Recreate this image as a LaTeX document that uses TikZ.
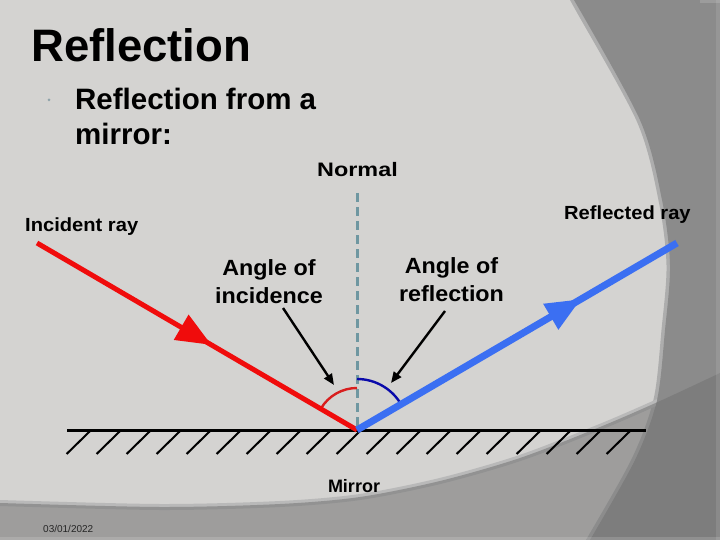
\documentclass[tikz,border=0pt]{standalone}
\usepackage{fontspec}
\setmainfont{Liberation Sans}
\newfontfamily\lblfont[FakeStretch=1.06]{Liberation Sans}
\newfontfamily\lblwide[FakeStretch=1.2]{Liberation Sans}
\usetikzlibrary{arrows.meta,decorations.markings,calc}
\definecolor{bglight}{HTML}{D4D3D1}
\definecolor{bgdark}{HTML}{8B8B8B}
\definecolor{bandright}{HTML}{ADADAD}
\definecolor{bandbottom}{HTML}{B9B9B9}
\definecolor{overlayc}{HTML}{727272}
\definecolor{rayred}{HTML}{F00C0C}
\definecolor{rayblue}{HTML}{3B6FF2}
\definecolor{arcred}{HTML}{D81E1E}
\definecolor{arcblue}{HTML}{0A0AAA}
\definecolor{normalc}{HTML}{6F97A1}
\definecolor{bulletc}{HTML}{8FA3AA}
\tikzset{
  redray/.style={draw=rayred, line width=5pt},
  blueray/.style={draw=rayblue, line width=7pt},
  raytip/.style={decoration={markings, mark=at position #1 with {\arrow{Triangle[length=35pt,width=28pt]}}}, postaction={decorate}},
  pointer/.style={draw=black, line width=2.4pt, -{Triangle[length=11pt,width=9pt]}},
  hatch/.style={draw=black, line width=2pt},
  normalline/.style={draw=normalc, line width=3pt, dash pattern=on 9pt off 5pt},
  anglearc/.style={line width=2.4pt},
  lbl/.style={inner sep=0pt, text=black}
}
\begin{document}
\begin{tikzpicture}[x=1pt,y=-1pt]
\useasboundingbox (0,0) rectangle (720,540);
% background
\fill[bglight] (0,0) rectangle (720,540);
\draw[bandright, line width=7pt] plot[smooth] coordinates {(574,-5) (574,0) (640,120) (662,200) (670,265) (665,330) (657,400) (635,460) (590,540) (586,545)};
\fill[bgdark] plot[smooth] coordinates {(574,0) (640,120) (662,200) (670,265) (665,330) (657,400) (635,460) (590,540)} -- (720,540) -- (720,0) -- cycle;
\begin{scope}
  \clip plot[smooth] coordinates {(574,0) (640,120) (662,200) (670,265) (665,330) (657,400) (635,460) (590,540)} -- (0,540) -- (0,0) -- cycle;
  \draw[bandbottom, line width=6pt] plot[smooth] coordinates {(0,503) (160,507) (280,504) (360,497) (440,481) (520,458) (600,427) (660,401) (720,373)};
\end{scope}
\fill[overlayc, fill opacity=0.55] plot[smooth] coordinates {(0,503) (160,507) (280,504) (360,497) (440,481) (520,458) (600,427) (660,401) (720,373)} -- (720,540) -- (0,540) -- cycle;
\fill[white, fill opacity=0.1] (716,0) rectangle (720,540);
\fill[white, fill opacity=0.15] (0,537) rectangle (720,540);
\fill[white, fill opacity=0.15] (700,0) rectangle (720,3);

% titles
\node[lbl, anchor=base west, font=\bfseries\fontsize{45.5}{50}\selectfont] (title) at (31,62) {Reflection};
\node[circle, fill=bulletc, inner sep=0pt, minimum size=3pt] (bullet) at (49,100) {};
\node[lbl, anchor=base west, font=\bfseries\fontsize{29.5}{35}\selectfont] (sub1) at (75,110) {Reflection from a};
\node[lbl, anchor=base west, font=\bfseries\fontsize{29.5}{35}\selectfont] (sub2) at (75,145) {mirror:};

% geometry
\coordinate (V) at (357,430);
\coordinate (I0) at (37,243);
\coordinate (R1) at (677,243);
\coordinate (N0) at (357,193);
\coordinate (M0) at (67,430);
\coordinate (M1) at (646,430);

\draw[normalline] (N0) -- (V);
\draw[arcred, anglearc] ($(V)+(270:42)$) arc[start angle=270, end angle=211, radius=42];
\draw[arcblue, anglearc] ($(V)+(270:51)$) arc[start angle=270, end angle=331, radius=51];

\draw[draw=black, line width=3pt] (M0) -- (M1);
\foreach \i in {0,...,18} \draw[hatch] (66.6+30*\i,454) -- ++(23,-22.5);

\draw[redray, raytip=0.545] (I0) -- (V);
\draw[blueray, raytip=0.70] (V) -- (R1);

% labels
\node[lbl, anchor=base, font=\lblwide\bfseries\fontsize{19.5}{22}\selectfont] (normal) at (357.5,177) {Normal};
\node[lbl, anchor=base west, font=\lblfont\bfseries\fontsize{19}{22}\selectfont] (inc) at (25,231) {Incident ray};
\node[lbl, anchor=base west, font=\lblfont\bfseries\fontsize{19}{22}\selectfont] (refl) at (564,220) {Reflected ray};
\node[lbl, anchor=north, align=center, font=\lblfont\bfseries\fontsize{22}{28.5}\selectfont] (angi) at (269,259.2) {Angle of\\incidence};
\node[lbl, anchor=north, align=center, font=\lblfont\bfseries\fontsize{22}{28.5}\selectfont] (angr) at (451.5,257.2) {Angle of\\reflection};
\node[lbl, anchor=base, font=\bfseries\fontsize{18}{20}\selectfont] (mirror) at (354,492) {Mirror};
\node[lbl, anchor=base west, font=\fontsize{10}{12}\selectfont, text=black!85] (date) at (43,532) {03/01/2022};

% pointers
\coordinate (pi0) at (283,308);
\coordinate (pi1) at (334,385);
\coordinate (pr0) at (445,311);
\coordinate (pr1) at (391,383);
\draw[pointer] (pi0) -- (pi1);
\draw[pointer] (pr0) -- (pr1);
\end{tikzpicture}
\end{document}
